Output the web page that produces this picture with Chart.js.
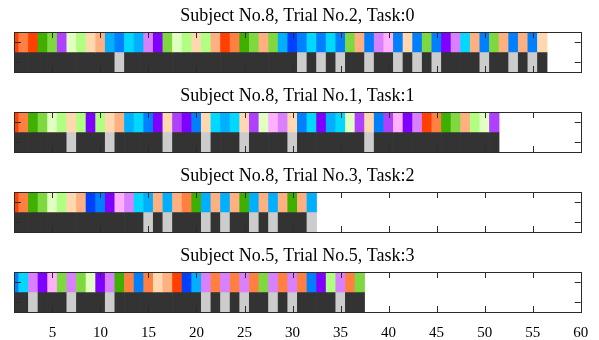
<!DOCTYPE html>
<html>
<head>
<meta charset="utf-8">
<script src="https://cdn.jsdelivr.net/npm/chart.js@4.4.0/dist/chart.umd.min.js"></script>
<style>
  html, body { margin: 0; padding: 0; background: #fff; }
  #wrap { position: relative; width: 599px; height: 340px; overflow: hidden; }
  #wrap canvas { position: absolute; left: 0; }
</style>
</head>
<body>
<div id="wrap"></div>
<script>
// Panel titles
const titles = [
  'Subject No.8, Trial No.2, Task:0',
  'Subject No.8, Trial No.1, Task:1',
  'Subject No.8, Trial No.3, Task:2',
  'Subject No.5, Trial No.5, Task:3'
];

// Row names (top row: class of each step, bottom row: task mask)
const rowNames = ['class', 'mask'];

// Shared x axis
const xMin = 1;
const xMax = 60;
const xTickValues = [5, 10, 15, 20, 25, 30, 35, 40, 45, 50, 55, 60];

// Class sequence for each step, one array per panel
const classes0 = ['R','O','R','DG','G','PU','PG','LG','PE','LO','SB','B','C','SB','LA','V','G','PG','LG','PE',
                  'LG','LO','R','O','DG','G','LO','G','SB','DB','B','C','B','C','B','G','LO','B','LA','PI',
                  'B','PE','B','G','B','V','LA','C','LO','B','G','LO','B','LO','B','PE'];
const classes1 = ['R','O','DG','G','PG','LG','PE','LG','V','LG','PE','LO','SB','C','B','V','PE','PU','V','B',
                  'PE','C','SB','C','PE','PU','PG','PI','LA','PE','B','C','V','SB','C','PG','PU','PE','B','PU',
                  'PI','V','LA','R','O','DG','G','LO','LG','PG','PU'];
const classes2 = ['R','O','DG','G','PG','LG','PE','LO','DB','B','V','PI','LA','C','SB','LO','SB','LO','O','DG',
                  'SB','LO','SB','LO','DG','SB','LO','SB','LO','DG','LO','SB'];
const classes3 = ['B','C','LA','V','PI','G','LA','G','PG','V','LA','DG','O','B','O','PE','LO','R','DB','SB',
                  'LA','O','LA','O','LA','O','G','LA','O','LA','O','B','V','LG','LA','O','G'];

// Mask row: 1 = highlighted step, 0 = background
const mask0 = [0,0,0,0,0,0,0,0,0,0,0,1,0,0,0,0,0,0,0,0,0,0,0,0,0,0,0,0,0,0,1,0,1,0,1,0,0,1,0,0,
               1,0,1,0,1,0,0,0,0,1,0,0,1,0,1,0];
const mask1 = [0,0,0,0,0,0,1,0,0,0,1,0,0,0,0,0,1,0,0,0,1,0,0,0,1,0,0,0,0,1,0,0,0,0,0,0,0,1,0,0,
               0,0,0,0,0,0,0,0,0,0,0];
const mask2 = [0,0,0,0,0,0,0,0,0,0,0,0,0,0,1,0,1,0,0,0,1,0,1,0,0,1,0,1,0,0,0,1];
const mask3 = [0,0,1,0,0,0,1,0,0,0,1,0,0,0,0,0,0,0,0,0,1,0,1,0,1,0,0,1,0,1,0,0,0,0,1,0,0];

const panelClasses = [classes0, classes1, classes2, classes3];
const panelMasks = [mask0, mask1, mask2, mask3];

// Colour for each class code
const palette = {
  R:  '#FF4000', O:  '#FF8040', LO: '#FFB080', PE: '#FFD8B0',
  DG: '#40B000', G:  '#80D840', LG: '#B0FF80', PG: '#E0FFC0',
  PU: '#B040FF', V:  '#8000FF', LA: '#D880FF', PI: '#FFB0FF',
  DB: '#0040FF', B:  '#0080FF', SB: '#00B0FF', C:  '#00D8FF'
};
const maskOn = '#CCCCCC';
const maskOff = '#333333';
const axisColor = '#2b2b2b';
const serif = "'Liberation Serif', 'Times New Roman', serif";

// Inward ticks on all four sides plus the axes box, drawn over the cells
const framePlugin = {
  id: 'frame',
  afterDatasetsDraw(chart) {
    const { ctx, chartArea: a, scales } = chart;
    const x = scales.x, y = scales.y;
    const len = 6;
    ctx.save();
    ctx.strokeStyle = axisColor;
    ctx.lineWidth = 1;
    ctx.beginPath();
    xTickValues.forEach(v => {
      const px = Math.round(x.getPixelForValue(v)) + 0.5;
      ctx.moveTo(px, a.top); ctx.lineTo(px, a.top + len);
      ctx.moveTo(px, a.bottom); ctx.lineTo(px, a.bottom - len);
    });
    rowNames.forEach((_, i) => {
      const py = Math.round(y.getPixelForValue(i)) + 0.5;
      ctx.moveTo(a.left, py); ctx.lineTo(a.left + len + 1, py);
      ctx.moveTo(a.right, py); ctx.lineTo(a.right - len, py);
    });
    ctx.stroke();
    ctx.strokeRect(Math.round(a.left) + 0.5, Math.round(a.top) + 0.5,
                   Math.round(a.right - a.left), Math.round(a.bottom - a.top));
    ctx.restore();
  }
};

const wrap = document.getElementById('wrap');

panelClasses.forEach((cls, p) => {
  const isLast = p === panelClasses.length - 1;
  const canvas = document.createElement('canvas');
  const h = isLast ? 100 : 80;
  canvas.width = 599;
  canvas.height = h;
  canvas.style.width = '599px';
  canvas.style.height = h + 'px';
  canvas.style.top = (p * 80) + 'px';
  wrap.appendChild(canvas);

  const mask = panelMasks[p];
  const classData = cls.map((c, i) => ({ x: [i + 0.5, i + 1.5], y: rowNames[0] }));
  const maskData = mask.map((m, i) => ({ x: [i + 0.5, i + 1.5], y: rowNames[1] }));

  new Chart(canvas, {
    type: 'bar',
    data: {
      labels: rowNames,
      datasets: [
        { data: classData, backgroundColor: cls.map(c => palette[c]) },
        { data: maskData, backgroundColor: mask.map(m => m ? maskOn : maskOff) }
      ]
    },
    options: {
      indexAxis: 'y',
      responsive: false,
      animation: false,
      devicePixelRatio: 1,
      events: [],
      layout: { padding: { left: 14, right: 18.3, top: 0, bottom: isLast ? 0 : 8 } },
      datasets: {
        bar: { grouped: false, categoryPercentage: 1, barPercentage: 1, borderWidth: 0 }
      },
      scales: {
        x: {
          type: 'linear',
          min: xMin,
          max: xMax,
          display: isLast,
          afterBuildTicks: s => { s.ticks = xTickValues.map(v => ({ value: v })); },
          afterFit: s => { s.height = isLast ? 28 : 0; },
          grid: { display: false },
          border: { display: false },
          ticks: { color: '#000', padding: 4, font: { family: serif, size: 15 } }
        },
        y: { type: 'category', display: false, offset: true }
      },
      plugins: {
        legend: { display: false },
        tooltip: { enabled: false },
        title: {
          display: true,
          text: titles[p],
          color: '#000',
          font: { family: serif, size: 18, weight: 'normal', lineHeight: '20px' },
          padding: { top: 6.6, bottom: 5.4 }
        }
      }
    },
    plugins: [framePlugin]
  });
});
</script>
</body>
</html>
